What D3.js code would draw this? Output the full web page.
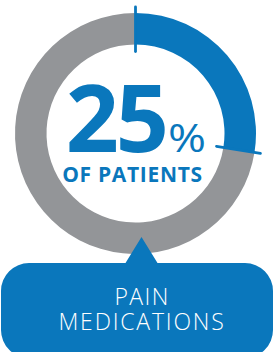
<!DOCTYPE html>
<html>
<head>
<meta charset="utf-8">
<script src="https://cdn.jsdelivr.net/npm/d3@7"></script>
<style>
  html, body { margin: 0; padding: 0; background: #fff; }
  svg { display: block; }
</style>
</head>
<body>
<svg id="chart" width="275" height="352"></svg>
<script>
// ---- data ----
const segments = ["Pain medications", "Other"];
const segmentShares = [27.5, 72.5];     // arc share as drawn in the picture
const headlineValue = ["25"];
const headlineUnit = ["%"];
const subtitleLines = ["OF PATIENTS"];
const labelLines = ["PAIN", "MEDICATIONS"];

// ---- styles ----
const BLUE = "#0a77bc";
const GRAY = "#939598";
const cx = 135.5, cy = 133.5;
const rOuter = 120.5, rInner = 89;

const svg = d3.select("#chart");

const pie = d3.pie().sort(null).value(d => d)(segmentShares);
const arc = d3.arc().innerRadius(rInner).outerRadius(rOuter);
const color = d3.scaleOrdinal().domain(segments).range([BLUE, GRAY]);

const g = svg.append("g").attr("transform", `translate(${cx},${cy})`);
g.selectAll("path.seg")
  .data(pie)
  .join("path")
  .attr("class", "seg")
  .attr("d", arc)
  .attr("fill", (d, i) => color(segments[i]));

// tick marks at the boundaries of the highlighted segment
const tickAngles = [pie[0].startAngle, pie[0].endAngle];
const tr0 = rInner - 7, tr1 = rOuter + 6;
g.selectAll("line.tick")
  .data(tickAngles)
  .join("line")
  .attr("class", "tick")
  .attr("x1", a => tr0 * Math.sin(a))
  .attr("y1", a => -tr0 * Math.cos(a))
  .attr("x2", a => tr1 * Math.sin(a))
  .attr("y2", a => -tr1 * Math.cos(a))
  .attr("stroke", BLUE)
  .attr("stroke-width", 2.8)
  .attr("stroke-linecap", "round");

// headline (one text block)
const head = svg.append("text")
  .attr("font-family", "'Open Sans', sans-serif")
  .attr("fill", BLUE);

head.append("tspan")
  .attr("x", 166).attr("y", 152)
  .attr("text-anchor", "end")
  .attr("font-weight", 700)
  .attr("font-size", 93)
  .attr("letter-spacing", -3)
  .text(headlineValue[0]);

head.append("tspan")
  .attr("x", 168).attr("y", 152)
  .attr("text-anchor", "start")
  .attr("font-weight", 400)
  .attr("font-size", 39)
  .attr("textLength", 38)
  .attr("lengthAdjust", "spacingAndGlyphs")
  .text(headlineUnit[0]);

head.append("tspan")
  .attr("x", 132.5).attr("y", 182)
  .attr("text-anchor", "middle")
  .attr("font-weight", 700)
  .attr("font-size", 21)
  .attr("letter-spacing", 0.7)
  .text(subtitleLines[0]);

// callout bubble
const bx = 1, by = 263, bw = 272, bh = 95, br = 28;
const ax = 141.5, ay = 237, hw = 16;
const p = d3.path();
p.moveTo(bx + br, by);
p.lineTo(ax - hw, by);
p.lineTo(ax, ay);
p.lineTo(ax + hw, by);
p.lineTo(bx + bw - br, by);
p.arcTo(bx + bw, by, bx + bw, by + br, br);
p.lineTo(bx + bw, by + bh - br);
p.arcTo(bx + bw, by + bh, bx + bw - br, by + bh, br);
p.lineTo(bx + br, by + bh);
p.arcTo(bx, by + bh, bx, by + bh - br, br);
p.lineTo(bx, by + br);
p.arcTo(bx, by, bx + br, by, br);
p.closePath();
svg.append("path").attr("d", p.toString()).attr("fill", BLUE);

const label = svg.append("text")
  .attr("text-anchor", "middle")
  .attr("font-family", "'Open Sans', sans-serif")
  .attr("font-weight", 300)
  .attr("font-size", 23)
  .attr("fill", "#fff");

label.selectAll("tspan")
  .data(labelLines)
  .join("tspan")
  .attr("x", 142)
  .attr("y", (d, i) => 305 + i * 24.5)
  .attr("letter-spacing", (d, i) => i === 0 ? 1.4 : 1.8)
  .text(d => d);
</script>
</body>
</html>
